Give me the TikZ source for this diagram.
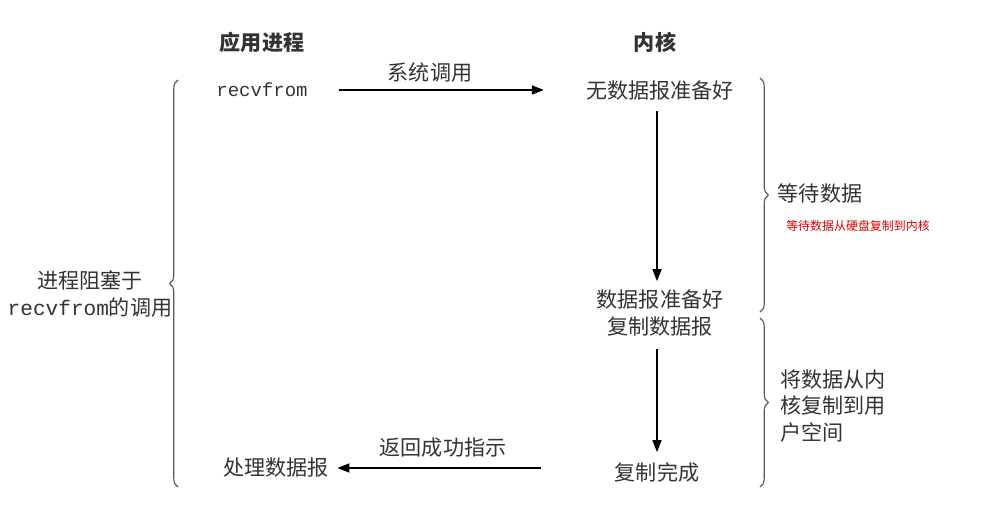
\documentclass[tikz,border=0pt]{standalone}
\usepackage{fontspec}
\setmainfont{Noto Sans CJK SC}
\setmonofont{Liberation Mono}
\usetikzlibrary{arrows.meta,decorations.pathreplacing}
\begin{document}
\begin{tikzpicture}
      [%%%%%%%%%%%%%%%%%%%%%%%%%%%%%%
      x=0.025cm, y=-0.025cm,
      txt/.style={text=black!80, font=\fontsize{15}{19}\selectfont, inner sep=0pt},
      head/.style={txt, font=\fontsize{15}{19}\selectfont\bfseries},
      code/.style={txt, font=\fontsize{13.5}{19}\selectfont\ttfamily},
      note/.style={text=red!85!black, font=\fontsize{8.5}{10}\selectfont, inner sep=0pt},
      arr/.style={-{Triangle[length=8.5pt,width=6.5pt]}, line width=0.9pt, black},
      brc/.style={decorate, decoration={brace, amplitude=6pt}, draw=black!65, line width=0.8pt},
      ]%%%%%%%%%%%%%%%%%%%%%%%%%%%%%%

      \useasboundingbox (0,0) rectangle (982,506);

      \node[head] (app)  at (262,42) {应用进程};
      \node[head] (kern) at (655,42) {内核};

      \node[code] (recv)    at (262,90)  {recvfrom};
      \node[txt]  (syscall) at (430,72)  {系统调用};
      \node[txt]  (nodata)  at (660,90)  {无数据报准备好};
      \node[txt,align=center] (ready) at (660,313) {数据报准备好\\复制数据报};
      \node[txt]  (done)    at (657,472) {复制完成};
      \node[txt]  (ret)     at (443,448) {返回成功指示};
      \node[txt]  (proc)    at (276,468) {处理数据报};

      \node[txt,align=center] (block) at (90,294) {进程阻塞于\\{\ttfamily recvfrom}的调用};
      \node[txt]  (wait) at (820,193) {等待数据};
      \node[note] (disk) at (858,226) {等待数据从硬盘复制到内核};
      \node[txt,align=left,anchor=west] (copy) at (780,406) {将数据从内\\核复制到用\\户空间};

      \draw[arr, shorten <=22pt, shorten >=30pt] (recv.east) -- (recv.east -| nodata.west);
      \draw[arr, shorten <=8pt, shorten >=6pt] (nodata.south -| done.north) -- (ready.north -| done.north);
      \draw[arr, shorten <=9pt, shorten >=7pt] (ready.south -| done.north) -- (done.north);
      \draw[arr, shorten <=52pt, shorten >=6pt] (proc.east -| done.west) -- (proc.east);

      \draw[brc] (178,487) -- (178,80);
      \draw[brc] (760,78) -- (760,312);
      \draw[brc] (760,318) -- (760,487);
    \end{tikzpicture}
\end{document}
